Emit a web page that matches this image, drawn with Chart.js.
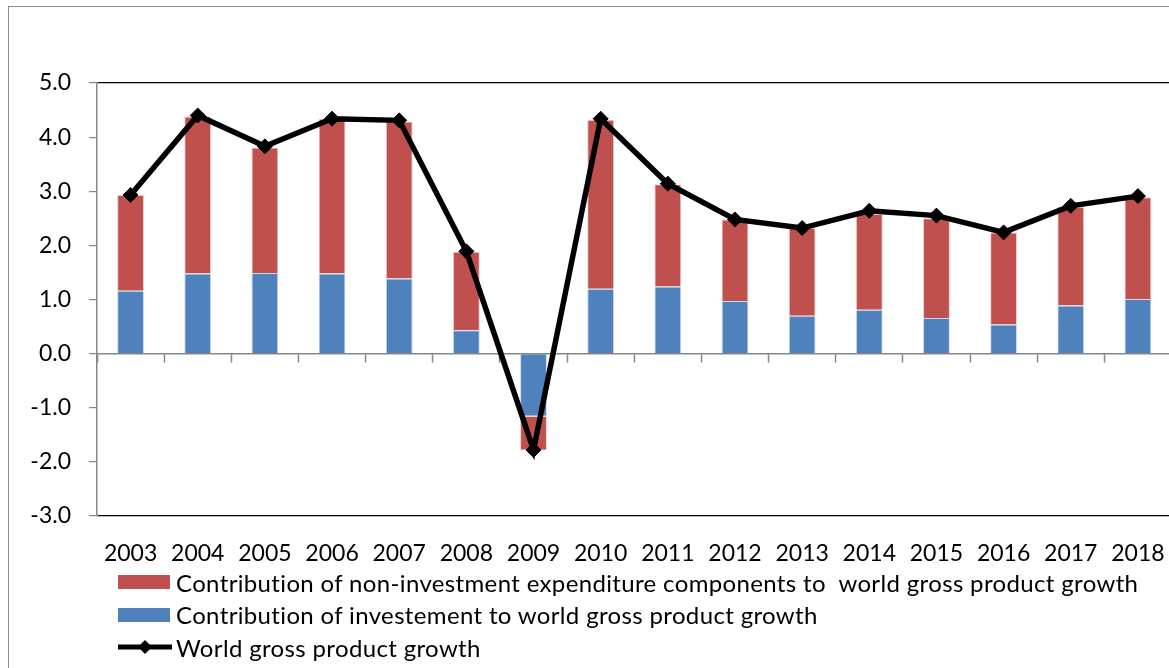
<!DOCTYPE html>
<html>
<head>
<meta charset="utf-8">
<script src="https://cdn.jsdelivr.net/npm/chart.js@4"></script>
<style>
    html, body { margin: 0; padding: 0; background: #fff; overflow: hidden; }
    #page   { position: relative; width: 1169px; height: 668px; overflow: hidden; }
    #frame  { position: absolute; left: 8px; top: 6px; width: 1300px; height: 800px;
              border-left: 1px solid #8c8c8c; border-top: 1px solid #8c8c8c; }
    #chart  { position: absolute; left: 0; top: 0; }
    #legend { position: absolute; left: 118px; top: 566px; font: 24px Lato, sans-serif;
              letter-spacing: 0.35px; color: #000; }
    .row    { height: 32.5px; display: flex; align-items: center; white-space: pre; }
    .box    { width: 52px; height: 14px; margin-right: 6px; }
    .row svg { margin-right: 4px; }
</style>
</head>
<body>
<div id="page">
    <div id="frame"></div>
    <canvas id="chart" width="1180" height="570"></canvas>
    <div id="legend"></div>
</div>
<script>
/* ── Data ── */
const years = ['2003','2004','2005','2006','2007','2008','2009','2010',
               '2011','2012','2013','2014','2015','2016','2017','2018'];

const investment    = [1.16, 1.48, 1.49, 1.48, 1.39, 0.43, -1.16, 1.20,
                       1.24, 0.97, 0.70, 0.81, 0.66, 0.54, 0.89, 1.01];
const nonInvestment = [1.77, 2.90, 2.32, 2.86, 2.90, 1.45, -0.63, 3.12,
                       1.89, 1.51, 1.62, 1.77, 1.84, 1.70, 1.82, 1.88];
const worldGrowth   = [2.93, 4.40, 3.83, 4.34, 4.31, 1.89, -1.78, 4.34,
                       3.14, 2.48, 2.32, 2.64, 2.55, 2.24, 2.73, 2.91];

const labelNonInv = 'Contribution of non-investment expenditure components to  world gross product growth';
const labelInv    = 'Contribution of investement to world gross product growth';
const labelGrowth = 'World gross product growth';

const RED   = '#C0504D';
const BLUE  = '#4F81BD';
const GREY  = '#868686';
const FONT  = { family: 'Lato, sans-serif', size: 23 };

/* ── Chart ── */
const ctx = document.getElementById('chart').getContext('2d');
new Chart(ctx, {
    type: 'bar',
    data: {
        labels: years,
        datasets: [
            {
                label: labelInv,
                data: investment,
                backgroundColor: BLUE,
                borderColor: 'rgba(200,215,235,0.9)',
                borderWidth: 1,
                xAxisID: 'x',
                order: 2
            },
            {
                label: labelNonInv,
                data: nonInvestment,
                backgroundColor: RED,
                borderColor: 'rgba(235,200,200,0.9)',
                borderWidth: 1,
                xAxisID: 'x',
                order: 2
            },
            {
                type: 'line',
                label: labelGrowth,
                data: worldGrowth,
                borderColor: '#000',
                borderWidth: 5.5,
                pointStyle: 'rectRot',
                pointRadius: 7.5,
                pointBackgroundColor: '#000',
                pointBorderColor: '#000',
                pointBorderWidth: 1,
                tension: 0,
                xAxisID: 'x',
                order: 1
            }
        ]
    },
    options: {
        responsive: false,
        animation: false,
        layout: { padding: { top: 83, right: 8, bottom: 0, left: 0 } },
        datasets: { bar: { barPercentage: 0.4, categoryPercentage: 1 } },
        scales: {
            x: {
                stacked: true,
                position: { y: 0 },
                offset: true,
                ticks: { display: false },
                grid: { offset: true, drawOnChartArea: false, drawTicks: true,
                        tickLength: 8, tickColor: GREY, tickWidth: 1.5 },
                border: { color: GREY, width: 1.5 }
            },
            xb: {
                type: 'category',
                position: 'bottom',
                offset: true,
                grid: { display: false, drawTicks: true, tickLength: 20 },
                border: { display: false },
                ticks: { color: '#000', font: FONT, padding: 4, maxRotation: 0, autoSkip: false },
                afterFit: s => { s.height = 54; }
            },
            y: {
                stacked: true,
                min: -3,
                max: 5,
                ticks: { stepSize: 1, color: '#000', font: FONT, padding: 18,
                         callback: v => v.toFixed(1) },
                grid: {
                    tickLength: 8,
                    tickColor: GREY,
                    color: c => (c.tick && (c.tick.value === 5 || c.tick.value === -3)) ? '#000' : 'rgba(0,0,0,0)',
                    lineWidth: 1.2
                },
                border: { color: GREY, width: 1.5 },
                afterFit: s => { s.width = 97; }
            }
        },
        plugins: {
            legend: { display: false },
            tooltip: { enabled: false }
        }
    }
});

/* ── Legend (HTML) ── */
const legend = document.getElementById('legend');
legend.innerHTML = `
    <div class="row"><div class="box" style="background:${RED}"></div>${labelNonInv}</div>
    <div class="row"><div class="box" style="background:${BLUE}"></div>${labelInv}</div>
    <div class="row">
        <svg width="54" height="18" viewBox="0 0 54 18">
            <line x1="0" y1="9" x2="54" y2="9" stroke="#000" stroke-width="5"/>
            <polygon points="27,2 34,9 27,16 20,9" fill="#000"/>
        </svg>${labelGrowth}</div>
`;
</script>
</body>
</html>
